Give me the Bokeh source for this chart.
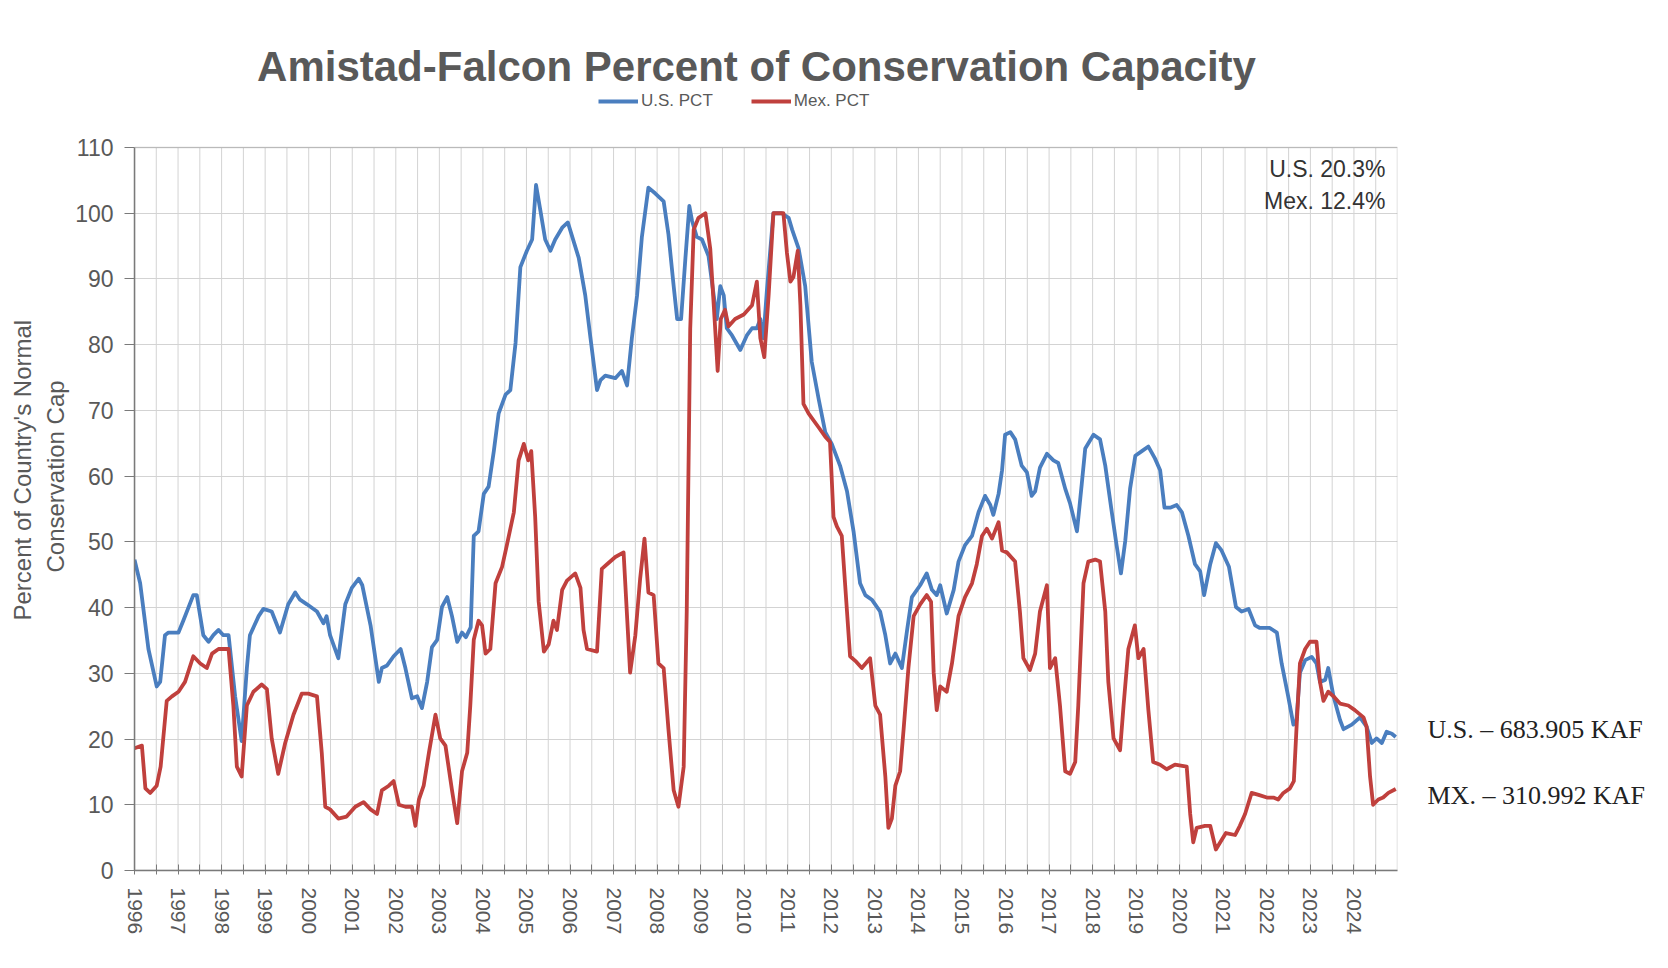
import math
from bokeh.plotting import figure
from bokeh.models import (Label, Legend, LegendItem, FixedTicker, Range1d, LinearAxis, Title,
                          BoxAnnotation)
from bokeh.embed import file_html
from bokeh.resources import INLINE

# ---------------- data (decimal years, percent of conservation capacity) ----------------
us_year = [1996.00, 1996.13, 1996.32, 1996.51, 1996.59, 1996.70, 1996.78, 1997.01, 1997.12, 1997.35,
           1997.43, 1997.58, 1997.70, 1997.81, 1997.93, 1998.04, 1998.16, 1998.31, 1998.46, 1998.58,
           1998.65, 1998.85, 1998.96, 1999.15, 1999.34, 1999.53, 1999.69, 1999.80, 1999.96, 2000.19,
           2000.34, 2000.41, 2000.49, 2000.68, 2000.84, 2000.99, 2001.15, 2001.23, 2001.42, 2001.61,
           2001.68, 2001.80, 2001.95, 2002.11, 2002.22, 2002.37, 2002.49, 2002.60, 2002.72, 2002.83,
           2002.95, 2003.06, 2003.18, 2003.29, 2003.41, 2003.52, 2003.61, 2003.72, 2003.79, 2003.90,
           2004.02, 2004.13, 2004.25, 2004.36, 2004.52, 2004.63, 2004.75, 2004.86, 2005.01, 2005.13,
           2005.22, 2005.32, 2005.43, 2005.55, 2005.66, 2005.82, 2005.95, 2006.20, 2006.35, 2006.47,
           2006.62, 2006.70, 2006.81, 2007.04, 2007.19, 2007.31, 2007.42, 2007.54, 2007.65, 2007.80,
           2007.96, 2008.15, 2008.26, 2008.38, 2008.46, 2008.55, 2008.65, 2008.74, 2008.80, 2008.91,
           2009.03, 2009.18, 2009.30, 2009.37, 2009.45, 2009.53, 2009.60, 2009.72, 2009.91, 2010.06,
           2010.18, 2010.29, 2010.37, 2010.44, 2010.52, 2010.67, 2010.86, 2011.02, 2011.10, 2011.25,
           2011.40, 2011.55, 2011.71, 2011.86, 2012.01, 2012.20, 2012.36, 2012.51, 2012.66, 2012.78,
           2012.93, 2013.12, 2013.24, 2013.35, 2013.47, 2013.62, 2013.74, 2013.85, 2014.04, 2014.19,
           2014.31, 2014.42, 2014.50, 2014.65, 2014.81, 2014.92, 2015.07, 2015.23, 2015.38, 2015.53,
           2015.65, 2015.72, 2015.84, 2015.92, 2015.99, 2016.11, 2016.22, 2016.37, 2016.49, 2016.60,
           2016.68, 2016.79, 2016.95, 2017.10, 2017.21, 2017.37, 2017.48, 2017.64, 2017.75, 2017.83,
           2018.02, 2018.17, 2018.29, 2018.44, 2018.55, 2018.65, 2018.75, 2018.86, 2018.98, 2019.13,
           2019.28, 2019.43, 2019.55, 2019.65, 2019.78, 2019.93, 2020.05, 2020.20, 2020.35, 2020.47,
           2020.56, 2020.70, 2020.83, 2020.96, 2021.13, 2021.29, 2021.42, 2021.58, 2021.73, 2021.84,
           2022.07, 2022.23, 2022.34, 2022.49, 2022.61, 2022.68, 2022.76, 2022.88, 2023.03, 2023.14,
           2023.22, 2023.34, 2023.41, 2023.53, 2023.68, 2023.76, 2023.95, 2024.14, 2024.29, 2024.41,
           2024.52, 2024.64, 2024.75, 2024.87, 2024.96]
us_pct = [47.3, 43.7, 33.7, 28.0, 28.7, 35.8, 36.2, 36.2, 38.0, 41.9,
          41.9, 35.8, 34.8, 35.8, 36.6, 35.8, 35.8, 26.5, 19.7, 30.8,
          35.8, 38.7, 39.8, 39.4, 36.2, 40.5, 42.3, 41.2, 40.5, 39.4,
          37.6, 38.7, 35.8, 32.3, 40.5, 43.0, 44.4, 43.4, 37.3, 28.7,
          30.8, 31.2, 32.6, 33.7, 30.8, 26.2, 26.5, 24.7, 28.7, 34.0,
          35.1, 40.1, 41.6, 38.7, 34.8, 36.2, 35.5, 37.0, 50.9, 51.6,
          57.3, 58.4, 63.8, 69.5, 72.4, 73.1, 80.3, 91.8, 94.3, 96.0,
          104.3, 100.4, 96.0, 94.3, 96.0, 97.8, 98.6, 93.2, 87.5, 81.0,
          73.1, 74.6, 75.3, 74.9, 76.0, 73.8, 81.0, 87.5, 96.4, 103.9,
          103.0, 101.8, 96.8, 88.9, 83.9, 83.9, 93.2, 101.1, 98.9, 96.4,
          96.0, 93.5, 87.5, 83.9, 88.9, 87.5, 82.5, 81.4, 79.2, 81.4,
          82.5, 82.5, 83.9, 81.0, 88.2, 100.0, 100.0, 99.3, 97.5, 94.6,
          88.9, 77.4, 71.7, 66.7, 64.9, 61.6, 57.7, 51.6, 43.7, 41.9,
          41.2, 39.4, 35.8, 31.5, 33.0, 30.8, 36.6, 41.6, 43.4, 45.2,
          42.7, 41.9, 43.4, 39.1, 42.7, 47.0, 49.5, 50.9, 54.5, 57.0,
          55.6, 54.1, 57.3, 60.9, 66.3, 66.7, 65.6, 61.6, 60.6, 57.0,
          57.7, 61.3, 63.4, 62.4, 62.0, 58.1, 55.9, 51.6, 58.8, 64.2,
          66.3, 65.6, 61.6, 54.5, 49.5, 45.2, 50.2, 58.1, 63.1, 63.8,
          64.5, 62.7, 60.9, 55.2, 55.2, 55.6, 54.5, 50.9, 46.6, 45.5,
          41.9, 46.6, 49.8, 48.7, 46.2, 40.1, 39.4, 39.8, 37.3, 36.9,
          36.9, 36.2, 31.5, 26.5, 22.2, 22.9, 30.1, 32.0, 32.5, 31.5,
          28.7, 29.0, 30.8, 26.5, 22.9, 21.5, 22.2, 23.3, 21.9, 19.4,
          20.1, 19.4, 21.1, 20.8, 20.3]

mx_year = [1996.00, 1996.17, 1996.25, 1996.36, 1996.51, 1996.60, 1996.74, 1996.86, 1997.01, 1997.16,
           1997.35, 1997.51, 1997.66, 1997.78, 1997.93, 1998.16, 1998.27, 1998.35, 1998.46, 1998.58,
           1998.73, 1998.92, 1999.04, 1999.15, 1999.30, 1999.46, 1999.65, 1999.84, 1999.99, 2000.19,
           2000.30, 2000.38, 2000.49, 2000.68, 2000.87, 2001.07, 2001.26, 2001.42, 2001.57, 2001.68,
           2001.84, 2001.95, 2002.07, 2002.22, 2002.37, 2002.45, 2002.53, 2002.64, 2002.76, 2002.91,
           2003.02, 2003.14, 2003.29, 2003.41, 2003.52, 2003.64, 2003.71, 2003.79, 2003.90, 2003.98,
           2004.06, 2004.17, 2004.29, 2004.44, 2004.55, 2004.71, 2004.82, 2004.94, 2005.04, 2005.11,
           2005.20, 2005.28, 2005.40, 2005.51, 2005.62, 2005.70, 2005.82, 2005.93, 2006.12, 2006.24,
           2006.31, 2006.39, 2006.62, 2006.73, 2006.85, 2007.04, 2007.23, 2007.38, 2007.50, 2007.61,
           2007.71, 2007.80, 2007.92, 2008.03, 2008.15, 2008.26, 2008.38, 2008.49, 2008.61, 2008.68,
           2008.76, 2008.84, 2008.95, 2009.11, 2009.22, 2009.32, 2009.39, 2009.46, 2009.56, 2009.64,
           2009.79, 2009.99, 2010.18, 2010.29, 2010.37, 2010.46, 2010.56, 2010.67, 2010.90, 2010.98,
           2011.06, 2011.13, 2011.23, 2011.29, 2011.36, 2011.48, 2011.71, 2011.86, 2011.97, 2012.05,
           2012.13, 2012.24, 2012.36, 2012.43, 2012.55, 2012.70, 2012.89, 2013.01, 2013.12, 2013.24,
           2013.31, 2013.39, 2013.47, 2013.58, 2013.66, 2013.77, 2013.89, 2014.04, 2014.19, 2014.29,
           2014.35, 2014.42, 2014.50, 2014.65, 2014.77, 2014.92, 2015.07, 2015.23, 2015.34, 2015.46,
           2015.57, 2015.69, 2015.84, 2015.92, 2016.03, 2016.22, 2016.33, 2016.41, 2016.56, 2016.68,
           2016.79, 2016.95, 2017.02, 2017.14, 2017.25, 2017.37, 2017.48, 2017.60, 2017.67, 2017.79,
           2017.90, 2018.06, 2018.17, 2018.29, 2018.36, 2018.48, 2018.63, 2018.71, 2018.82, 2018.97,
           2019.05, 2019.17, 2019.28, 2019.39, 2019.55, 2019.70, 2019.89, 2020.16, 2020.24, 2020.31,
           2020.39, 2020.58, 2020.70, 2020.83, 2020.93, 2021.06, 2021.27, 2021.38, 2021.50, 2021.65,
           2021.81, 2022.00, 2022.15, 2022.26, 2022.38, 2022.53, 2022.62, 2022.68, 2022.76, 2022.88,
           2022.99, 2023.14, 2023.22, 2023.30, 2023.41, 2023.53, 2023.68, 2023.87, 2024.02, 2024.22,
           2024.29, 2024.37, 2024.44, 2024.56, 2024.67, 2024.79, 2024.96]
mx_pct = [18.6, 19.0, 12.5, 11.8, 12.9, 15.8, 25.8, 26.5, 27.2, 28.7,
          32.6, 31.5, 30.8, 33.0, 33.7, 33.7, 25.1, 15.8, 14.3, 25.1,
          27.2, 28.3, 27.6, 20.1, 14.7, 19.4, 23.7, 26.9, 26.9, 26.5,
          17.9, 9.7, 9.3, 7.9, 8.2, 9.7, 10.4, 9.3, 8.6, 12.2,
          12.9, 13.6, 10.0, 9.7, 9.7, 6.8, 10.8, 12.9, 17.9, 23.7,
          20.1, 19.0, 12.2, 7.2, 15.1, 17.9, 25.1, 35.1, 38.0, 37.3,
          33.0, 33.7, 43.7, 46.2, 49.5, 54.5, 62.4, 64.9, 62.4, 63.8,
          53.8, 40.9, 33.3, 34.4, 38.0, 36.6, 42.7, 44.1, 45.2, 43.0,
          36.6, 33.7, 33.3, 45.9, 46.6, 47.7, 48.4, 30.1, 35.8, 44.4,
          50.5, 42.3, 41.9, 31.5, 30.8, 21.5, 12.2, 9.7, 15.8, 39.4,
          82.4, 97.5, 99.3, 100.0, 94.6, 83.9, 76.0, 83.9, 85.3, 82.8,
          83.9, 84.6, 86.0, 89.6, 81.0, 78.1, 87.5, 100.0, 100.0, 94.0,
          89.6, 90.3, 94.3, 86.0, 71.0, 69.5, 67.4, 66.0, 65.2, 53.8,
          52.3, 50.9, 39.4, 32.6, 31.9, 30.8, 32.3, 25.1, 23.7, 14.3,
          6.5, 7.9, 12.9, 15.1, 21.5, 30.8, 38.7, 40.5, 41.9, 40.9,
          30.1, 24.4, 28.0, 27.2, 31.5, 38.7, 41.6, 43.7, 46.6, 50.9,
          52.0, 50.5, 53.0, 48.7, 48.4, 47.0, 39.4, 32.3, 30.5, 33.0,
          39.4, 43.4, 30.8, 32.3, 25.1, 15.1, 14.7, 16.5, 25.1, 43.7,
          47.0, 47.3, 47.0, 39.4, 28.7, 20.1, 18.3, 25.1, 33.7, 37.3,
          32.3, 33.7, 24.4, 16.5, 16.1, 15.4, 16.1, 15.8, 8.6, 4.3,
          6.5, 6.8, 6.8, 3.2, 4.3, 5.7, 5.4, 6.8, 8.6, 11.8,
          11.5, 11.1, 11.1, 10.8, 11.8, 12.5, 13.6, 21.5, 31.5, 33.7,
          34.8, 34.8, 28.7, 25.8, 27.2, 26.5, 25.4, 25.1, 24.4, 23.3,
          21.9, 14.3, 10.0, 10.8, 11.1, 11.8, 12.4]

year_ticks = list(range(1996, 2025))
half_year_ticks = [y + 0.5 for y in range(1996, 2025)]
pct_ticks = list(range(0, 111, 10))
X_START, X_END = 1996, 2025
Y_MAX = 110

title_text = "Amistad-Falcon Percent of Conservation Capacity"
series_names = ["U.S. PCT", "Mex. PCT"]
latest_text = ["U.S. 20.3%", "Mex. 12.4%"]
volume_text = ["U.S. \u2013 683.905 KAF", "MX. \u2013 310.992 KAF"]
volume_level = [21.45, 11.4]   # vertical level (in % units) where the volume notes sit
ylabel_lines = ["Percent of Country's Normal", "Conservation Cap"]

BLUE = "#4a7ebf"
RED = "#c0403d"
GRAY_TXT = "#595959"
GRID = "#d3d3d3"
AXIS = "#7a7a7a"
FONT = "Liberation Sans"

# ---------------- layout (page pixels) ----------------
W, H = 1660, 960
FL, FT, FR, FB = 134, 147, 1397, 870   # edges of the data box (0..110 %)
# the drawing area reaches to the top of the page, so the title and legend live inside it
y_top = Y_MAX * FB / (FB - FT)

p = figure(width=W, height=H, output_backend="svg", toolbar_location=None,
           title_location=None,
           x_range=Range1d(X_START, X_END), y_range=Range1d(0, y_top),
           min_border_left=FL, min_border_right=W - FR, min_border_top=0, min_border_bottom=H - FB)
p.background_fill_color = "white"
p.border_fill_color = "white"
p.outline_line_color = None

# vertical grid lines (every half year), bounded to the data box
grid_x = sorted(year_ticks + half_year_ticks)
p.segment(x0=grid_x, y0=[0] * len(grid_x), x1=grid_x, y1=[Y_MAX] * len(grid_x),
          line_color=GRID, line_width=1, level="underlay")

us_r = p.line(us_year, us_pct, line_color=BLUE, line_width=3.8, line_join="round")
mx_r = p.line(mx_year, mx_pct, line_color=RED, line_width=3.8, line_join="round")

# box outline of the data area
p.add_layout(BoxAnnotation(left=X_START, right=X_END, bottom=0, top=Y_MAX,
                           fill_color=None, fill_alpha=0, line_color="#808080", line_width=1.5))

# x axis
xax = p.xaxis[0]
xax.ticker = FixedTicker(ticks=year_ticks, minor_ticks=half_year_ticks)
xax.major_label_orientation = -math.pi / 2
xax.major_label_text_font = FONT
xax.major_label_text_font_size = "21px"
xax.major_label_text_color = GRAY_TXT
xax.major_label_standoff = 13
xax.axis_line_color = AXIS
xax.axis_line_width = 1.5
xax.major_tick_line_color = AXIS
xax.minor_tick_line_color = AXIS
xax.major_tick_in = 6
xax.major_tick_out = 4
xax.minor_tick_in = 6
xax.minor_tick_out = 4

# y axis (left)
yax = p.yaxis[0]
yax.ticker = FixedTicker(ticks=pct_ticks)
yax.bounds = (0, Y_MAX)
yax.major_label_text_font = FONT
yax.major_label_text_font_size = "23px"
yax.major_label_text_color = GRAY_TXT
yax.major_label_standoff = 11
yax.axis_line_color = AXIS
yax.axis_line_width = 1.5
yax.major_tick_line_color = AXIS
yax.major_tick_in = 0
yax.major_tick_out = 10
yax.minor_tick_line_color = None

# grids
p.xgrid.grid_line_color = None
p.ygrid.grid_line_color = GRID

# y-axis title, two lines (line nearest the axis first)
p.add_layout(Title(text=ylabel_lines[1], align="left", offset=298, standoff=8,
                   text_font=FONT, text_font_size="24px", text_font_style="normal",
                   text_color=GRAY_TXT), "left")
p.add_layout(Title(text=ylabel_lines[0], align="left", offset=250, standoff=0,
                   text_font=FONT, text_font_size="24px", text_font_style="normal",
                   text_color=GRAY_TXT), "left")


def screen_label(text, px, py, **kw):
    """Label centred vertically on page pixel row py; screen units run from the frame's bottom-left."""
    p.add_layout(Label(x=px - FL, y=FB - py, x_units="screen", y_units="screen", text=text,
                       text_baseline="middle", **kw))


# title
screen_label(title_text, 756, 66, text_font=FONT, text_font_style="bold", text_font_size="42px",
             text_color=GRAY_TXT, text_align="center")

# legend under the title
legend = Legend(items=[LegendItem(label=series_names[0], renderers=[us_r]),
                       LegendItem(label=series_names[1], renderers=[mx_r])],
                orientation="horizontal", location=(598 - FL, FB - 111),
                glyph_width=40, glyph_height=12, label_standoff=3, spacing=38,
                padding=0, margin=0, border_line_color=None, background_fill_alpha=0,
                label_text_font=FONT, label_text_font_size="17px", label_text_color=GRAY_TXT)
p.add_layout(legend)

# latest values (top right inside the data box)
for txt, py in zip(latest_text, [168, 200]):
    screen_label(txt, 1385, py, text_font=FONT, text_font_size="23px", text_color="#333333",
                 text_align="right")

# volume notes on the right, as labels of a right-hand axis
rax = LinearAxis(ticker=FixedTicker(ticks=volume_level), bounds=(0, Y_MAX),
                 major_label_overrides={volume_level[0]: volume_text[0],
                                        volume_level[1]: volume_text[1]})
rax.axis_line_color = None
rax.major_tick_line_color = None
rax.minor_tick_line_color = None
rax.major_tick_out = 0
rax.major_tick_in = 0
rax.major_label_standoff = 30
rax.major_label_text_font = "Liberation Serif"
rax.major_label_text_font_size = "26px"
rax.major_label_text_color = "#222222"
p.add_layout(rax, "right")

open("out.html", "w").write(file_html(p, INLINE))
